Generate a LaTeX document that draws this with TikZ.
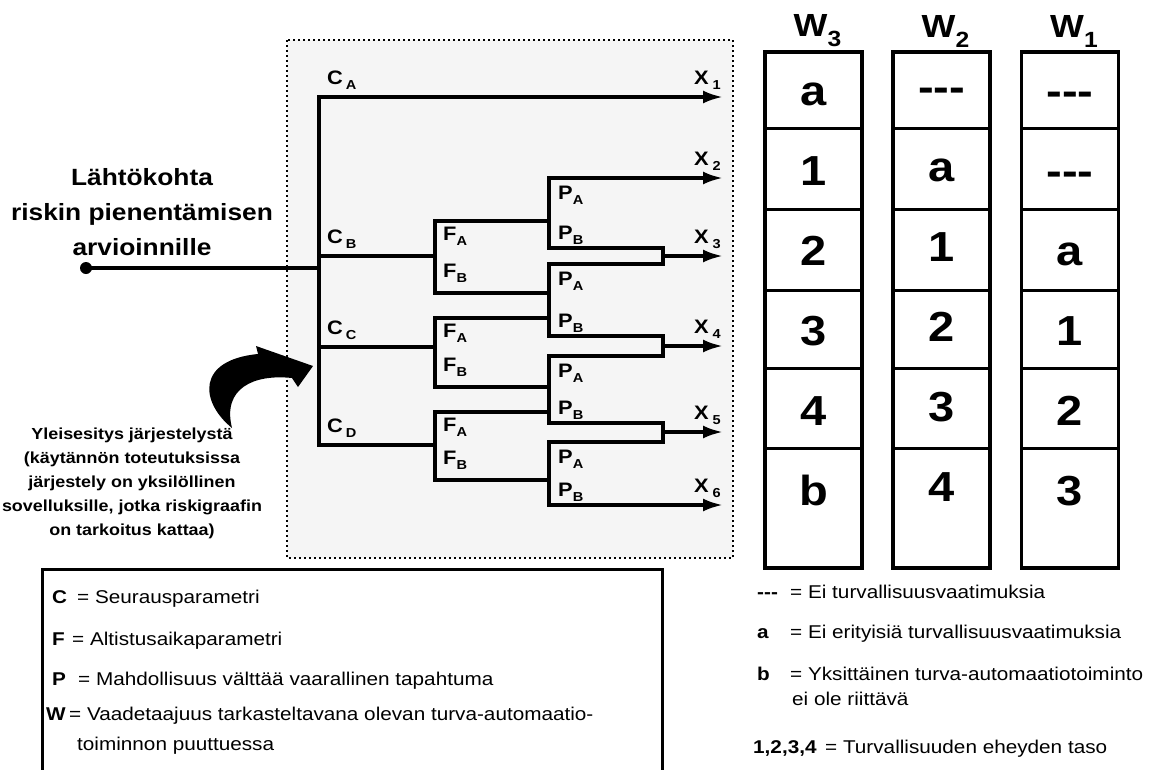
\documentclass[tikz,border=0pt]{standalone}
\usepackage{fontspec}
\setmainfont{Liberation Sans}[FakeStretch=1.12]
\usetikzlibrary{arrows.meta,positioning,calc}
\newcommand{\fsz}[2]{\fontsize{#1}{#2}\selectfont}
\newcommand{\sublbl}[3][0pt]{#2\hspace{#1}\raisebox{-5pt}{\fsz{13}{13}#3}}
\newcommand{\wlbl}[1]{W\raisebox{-10pt}{\fsz{22}{22}#1}}
\newcommand{\none}{-{}-{}-}
\tikzset{
  gframe/.style={draw,fill=black!4,line width=2.5pt,dash pattern=on 2pt off 3pt},
  wire/.style ={line width=3.5pt,line cap=rect},
  ar/.style   ={wire,-{Latex[length=20pt,width=13pt]}},
  dot/.style  ={circle,fill,minimum size=12pt,inner sep=0pt},
  br/.style   ={font=\bfseries\fsz{19.5}{19.5},inner sep=0pt},
  wcol/.style ={draw,line width=3.5pt,minimum width=97pt,minimum height=516pt,inner sep=0pt},
  wsep/.style ={line width=3pt},
  cell/.style ={font=\bfseries\fsz{42}{42},inner sep=0pt,anchor=base},
  whead/.style={font=\bfseries\fsz{32}{32},inner sep=0pt},
  note/.style ={font=\fsz{18.5}{18.5},anchor=base west,inner sep=0pt},
  sym/.style  ={note,font=\bfseries\fsz{18.5}{18.5}},
  legbox/.style={line width=3pt},
}
\begin{document}
\begin{tikzpicture}[x=1pt,y=-1pt]
  \useasboundingbox (0,0) rectangle (1160,769);
  \draw[gframe] (287,40) rectangle (733,558);

  % start of the graph
  \node[dot] (start) at (86,268) {};
  \node[align=center,font=\bfseries\fsz{23.5}{35}] (title) at (142,212)
    {Lähtökohta\\riskin pienentämisen\\arvioinnille};
  \coordinate (root) at (319,268);
  \coordinate (pcol) at (549,0);
  \coordinate (mcol) at (663,0);
  \coordinate (cA) at (319,97);
  \coordinate (cD) at (319,445);
  \foreach \x/\y in {1/97,2/178,3/256,4/346,5/432,6/505}
    \coordinate (x\x) at (723,\y);
  \draw[wire] (start) -- (root);
  \draw[wire] (cA) -- (cD);
  \draw[ar] (cA) -- (x1);
  \node[br,above right=7pt and 8pt of cA] (lcA) {\sublbl[3pt]{C}{A}};

  % C branches split by F
  \foreach \k/\y/\ft/\fb in {B/256/221/293,C/347/318/387,D/445/412/480}{
    \coordinate (c\k) at (319,\y);
    \coordinate (f\k) at (435,\y);
    \coordinate (ft\k) at (435,\ft);
    \coordinate (fb\k) at (435,\fb);
    \draw[wire] (c\k) -- (f\k);
    \draw[wire] (pcol |- ft\k) -- (ft\k) -- (fb\k) -- (pcol |- fb\k);
    \node[br,above right=7pt and 8pt of c\k] (lc\k) {\sublbl[3pt]{C}{\k}};
    \node[br,below right=6pt and 8pt of ft\k] (lfa\k) {\sublbl{F}{A}};
    \node[br,above right=10pt and 8pt of fb\k] (lfb\k) {\sublbl{F}{B}};
  }

  % P splits
  \foreach \g/\t/\b in {1/178/248,2/264/336,3/356/423,4/442/505}{
    \coordinate (pt\g) at (549,\t);
    \coordinate (pb\g) at (549,\b);
    \draw[wire] (pt\g) -- (pb\g);
    \node[br,below right=8pt and 9pt of pt\g] (lpa\g) {\sublbl{P}{A}};
    \node[br,above right=3pt and 9pt of pb\g] (lpb\g) {\sublbl{P}{B}};
  }
  \draw[ar] (pt1) -- (x2);
  \draw[ar] (pb4) -- (x6);
  % neighbouring outcomes joined
  \foreach \u/\l/\x in {1/2/3,2/3/4,3/4/5}{
    \draw[wire] (pb\u) -| (mcol |- x\x) |- (pt\l);
    \draw[ar] (mcol |- x\x) -- (x\x);
  }
  \foreach \x in {1,...,6}
    \node[br,above left=7pt and 2pt of x\x] (lx\x) {\sublbl[4pt]{X}{\x}};

  % pointer to the graph
  \fill (232,428) .. controls (200,402) and (196,360) .. (258,354) -- (256,346)
    -- (313,366) -- (298,387) -- (292,378) .. controls (254,374) and (222,388) .. (232,428) -- cycle;
  \node[align=center,font=\bfseries\fsz{16}{24}] (remark) at (132,483)
    {Yleisesitys järjestelystä\\(käytännön toteutuksissa\\järjestely on yksilöllinen\\sovelluksille, jotka riskigraafin\\on tarkoitus kattaa)};

  % W columns
  \foreach \w/\x/\dy/\vals in {3/813.5/25/{a,1,2,3,4,b},2/941.5/21/{\none,a,1,2,3,4},1/1070/25/{\none,\none,a,1,2,3}}{
    \node[wcol] (w\w) at (\x,310) {};
    \node[whead,above=3pt of w\w,xshift=4pt] (hw\w) {\wlbl{\w}};
    \foreach \ys in {128,209,290,368,448}
      \draw[wsep] ({\x-48.5},\ys) -- ({\x+48.5},\ys);
    \foreach \v [count=\i] in \vals
      \node[cell] (v\w\i) at (\x,{\dy+80*\i}) {\v};
  }

  % legend, left
  \draw[legbox] (42,775) -- (42,569) -- (662,569) -- (662,775);
  \node[sym] (kc) at (52,603) {C};
  \node[note] (tc) at (77,603) {= Seurausparametri};
  \node[sym] (kf) at (52,645) {F};
  \node[note] (tf) at (72,645) {= Altistusaikaparametri};
  \node[sym] (kp) at (52,685) {P};
  \node[note] (tp) at (78,685) {= Mahdollisuus välttää vaarallinen tapahtuma};
  \node[sym] (kw) at (46,720) {W};
  \node[note] (tw) at (69,720) {= Vaadetaajuus tarkasteltavana olevan turva-automaatio-};
  \node[note] (tw2) at (77,750) {toiminnon puuttuessa};

  % legend, right
  \node[sym] (kdash) at (757,598) {\none};
  \node[note] (tdash) at (790,598) {= Ei turvallisuusvaatimuksia};
  \node[sym] (ka) at (757,638) {a};
  \node[note] (ta) at (790,638) {= Ei erityisiä turvallisuusvaatimuksia};
  \node[sym] (kb) at (757,680) {b};
  \node[note] (tb) at (790,680) {= Yksittäinen turva-automaatiotoiminto};
  \node[note] (tb2) at (792,705) {ei ole riittävä};
  \node[sym] (kn) at (753,753) {1,2,3,4};
  \node[note] (tn) at (825,753) {= Turvallisuuden eheyden taso};
\end{tikzpicture}
\end{document}
